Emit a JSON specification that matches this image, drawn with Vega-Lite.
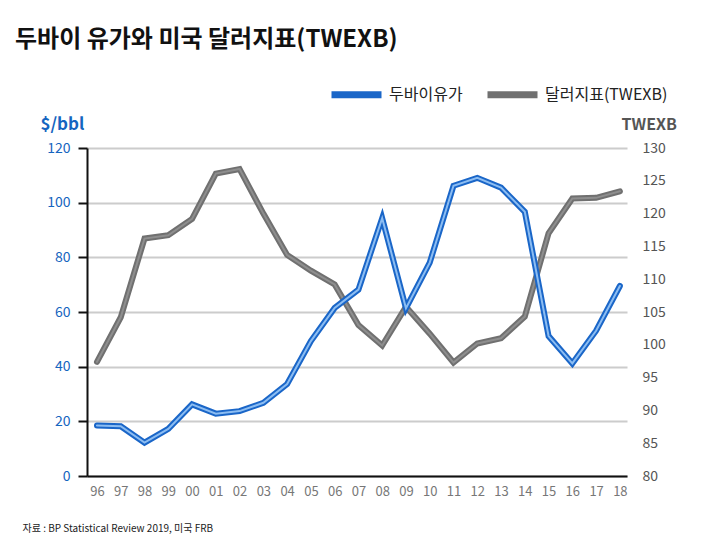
{
  "$schema": "https://vega.github.io/schema/vega-lite/v6.json",
  "width": 540,
  "height": 328,
  "autosize": {"type": "none"},
  "padding": {"left": 87, "top": 148, "right": 99, "bottom": 74},
  "background": "white",
  "config": {
    "font": "Noto Sans CJK KR",
    "view": {"stroke": null}
  },
  "title": {
    "text": "두바이 유가와 미국 달러지표(TWEXB)",
    "anchor": "start",
    "frame": "group",
    "fontSize": 24,
    "fontWeight": "bold",
    "color": "#111111",
    "dx": -72,
    "offset": 14
  },
  "data": {
    "values": [
      {"year": 1996, "oil": 18.52, "twexb": 97.4},
      {"year": 1997, "oil": 18.23, "twexb": 104.2},
      {"year": 1998, "oil": 12.21, "twexb": 116.2},
      {"year": 1999, "oil": 17.25, "twexb": 116.7},
      {"year": 2000, "oil": 26.2, "twexb": 119.2},
      {"year": 2001, "oil": 22.81, "twexb": 126.1},
      {"year": 2002, "oil": 23.74, "twexb": 126.8},
      {"year": 2003, "oil": 26.78, "twexb": 120.0},
      {"year": 2004, "oil": 33.64, "twexb": 113.7},
      {"year": 2005, "oil": 49.35, "twexb": 111.3},
      {"year": 2006, "oil": 61.5, "twexb": 109.2},
      {"year": 2007, "oil": 68.19, "twexb": 103.0},
      {"year": 2008, "oil": 94.34, "twexb": 99.9},
      {"year": 2009, "oil": 61.39, "twexb": 105.8},
      {"year": 2010, "oil": 78.06, "twexb": 101.7},
      {"year": 2011, "oil": 106.18, "twexb": 97.3},
      {"year": 2012, "oil": 109.08, "twexb": 100.2},
      {"year": 2013, "oil": 105.51, "twexb": 101.0},
      {"year": 2014, "oil": 96.66, "twexb": 104.3},
      {"year": 2015, "oil": 51.2, "twexb": 117.0},
      {"year": 2016, "oil": 41.19, "twexb": 122.3},
      {"year": 2017, "oil": 53.13, "twexb": 122.4},
      {"year": 2018, "oil": 69.51, "twexb": 123.4}
    ]
  },
  "encoding": {
    "x": {
      "field": "year",
      "type": "quantitative",
      "scale": {"domain": [1995.58, 2018.3], "nice": false, "zero": false},
      "axis": {
        "values": [1996, 1997, 1998, 1999, 2000, 2001, 2002, 2003, 2004, 2005, 2006, 2007, 2008, 2009, 2010, 2011, 2012, 2013, 2014, 2015, 2016, 2017, 2018],
        "labelExpr": "slice(toString(datum.value), 2)",
        "labelOverlap": false,
        "grid": false,
        "ticks": false,
        "domain": true,
        "domainColor": "#111111",
        "domainWidth": 2,
        "labelColor": "#777777",
        "labelFontSize": 13,
        "labelPadding": 9,
        "labelFlush": false,
        "title": "자료 : BP Statistical Review 2019, 미국 FRB",
        "titleFontSize": 10,
        "titleFontWeight": "normal",
        "titleColor": "#222222",
        "titleAnchor": "start",
        "titleAlign": "left",
        "titleBaseline": "middle",
        "titleX": -65,
        "titleY": 52
      }
    }
  },
  "layer": [
    {
      "encoding": {
        "y": {
          "field": "twexb",
          "type": "quantitative",
          "scale": {"domain": [80, 130], "nice": false, "zero": false},
          "axis": {
            "orient": "right",
            "values": [80, 85, 90, 95, 100, 105, 110, 115, 120, 125, 130],
            "labelOverlap": false,
            "grid": false,
            "ticks": false,
            "domain": false,
            "labelColor": "#555555",
            "labelFontSize": 14,
            "labelPadding": 15,
            "title": "TWEXB",
            "titleAngle": 0,
            "titleAlign": "left",
            "titleBaseline": "middle",
            "titleX": -6,
            "titleY": -24,
            "titleFontSize": 16,
            "titleFontWeight": "bold",
            "titleColor": "#555555"
          }
        }
      },
      "layer": [
        {
          "mark": {"type": "line", "strokeWidth": 6, "strokeCap": "round", "strokeJoin": "miter"},
          "encoding": {
            "color": {
              "datum": "달러지표(TWEXB)",
              "type": "nominal",
              "scale": {"domain": ["두바이유가", "달러지표(TWEXB)"], "range": ["#1a66c8", "#707070"]},
              "legend": {
                "orient": "none",
                "direction": "horizontal",
                "legendX": 241,
                "legendY": -82,
                "title": null,
                "symbolType": "stroke",
                "symbolSize": 2500,
                "symbolStrokeWidth": 7,
                "labelFontSize": 16,
                "labelColor": "#222222",
                "labelOffset": 4,
                "columnPadding": 10,
                "labelLimit": 220
              }
            }
          }
        },
        {
          "mark": {"type": "line", "strokeWidth": 2, "color": "#8e8e8e", "strokeCap": "round"},
          "encoding": {}
        }
      ]
    },
    {
      "encoding": {
        "y": {
          "field": "oil",
          "type": "quantitative",
          "scale": {"domain": [0, 120], "nice": false},
          "axis": {
            "orient": "left",
            "values": [0, 20, 40, 60, 80, 100, 120],
            "grid": true,
            "gridColor": "#cccccc",
            "gridWidth": 2,
            "ticks": true,
            "tickColor": "#111111",
            "tickWidth": 2,
            "tickSize": 9,
            "domain": true,
            "domainColor": "#111111",
            "domainWidth": 2,
            "labelColor": "#1565c0",
            "labelFontSize": 14,
            "labelPadding": 8,
            "title": "$/bbl",
            "titleAngle": 0,
            "titleAlign": "left",
            "titleBaseline": "middle",
            "titleX": -47,
            "titleY": -24,
            "titleFontSize": 17,
            "titleFontWeight": "bold",
            "titleColor": "#1565c0"
          }
        }
      },
      "layer": [
        {
          "mark": {"type": "line", "strokeWidth": 6, "strokeCap": "round", "strokeJoin": "miter"},
          "encoding": {
            "color": {"datum": "두바이유가", "type": "nominal"}
          }
        },
        {
          "mark": {"type": "line", "strokeWidth": 2, "color": "#8cbdf2", "strokeCap": "round"},
          "encoding": {}
        }
      ]
    }
  ],
  "resolve": {"scale": {"y": "independent"}, "axis": {"y": "independent"}}
}
